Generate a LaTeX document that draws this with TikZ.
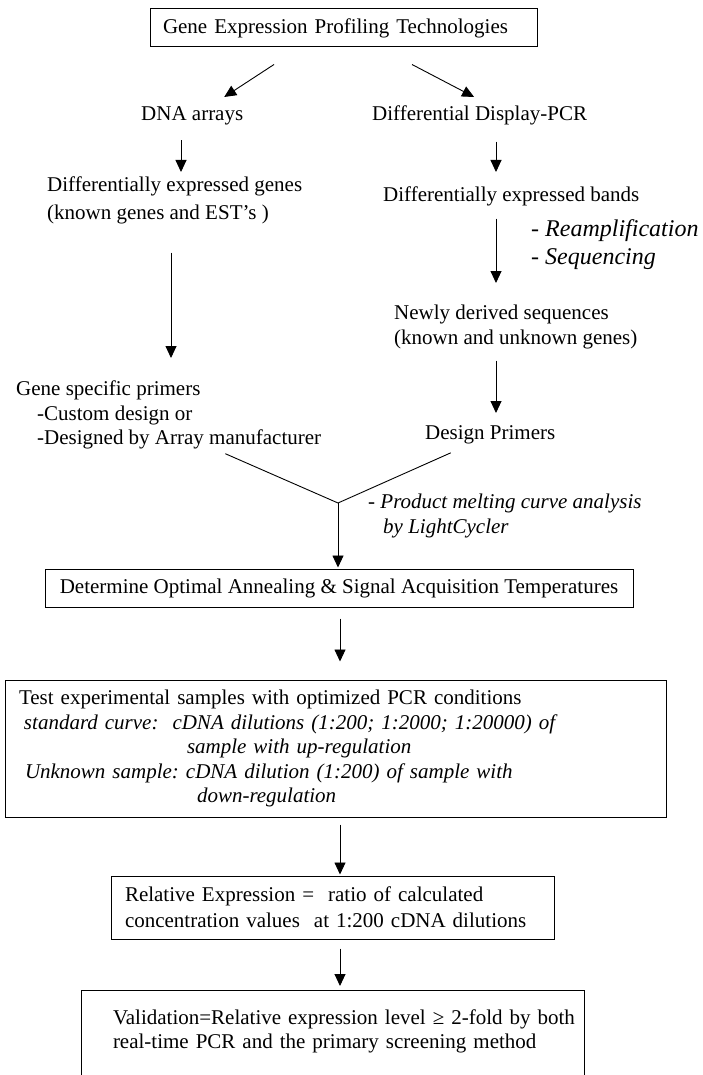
\documentclass[tikz,border=0pt]{standalone}
\usepackage{fontspec}
\setmainfont{Liberation Serif}
\usetikzlibrary{arrows.meta}
\frenchspacing

\begin{document}
\begin{tikzpicture}[x=1pt,y=-1pt,
		every node/.style={font=\fontsize{21}{24.5}\selectfont},
		txt/.style={inner sep=0pt,anchor=north west,align=left},
		ital/.style={font=\fontsize{21}{25}\selectfont\itshape},
		box/.style={draw,line width=1pt,inner ysep=0pt},
		ln/.style={line width=0.9pt},
		arr/.style={ln,-{Triangle[length=12pt,width=11pt]}}]
				\useasboundingbox (0,0) rectangle (703,1075);
				\clip (0,0) rectangle (703,1075);
				\coordinate (colA) at (181,0);
				\coordinate (colB) at (171,0);
				\coordinate (colR) at (496,0);
				\coordinate (colM) at (340,0);
				\coordinate (join) at (338,503);
				\node[box,text width=361pt,inner xsep=13pt,minimum height=38pt] (gept) at (343.5,28) {Gene Expression Profiling Technologies};
				\node[txt] (dna) at (141,106) {DNA arrays};
				\node[txt] (ddp) at (372,106) {Differential Display-PCR};
				\node[txt] (deg) at (47,177) {Differentially expressed genes\\[3.5pt](known genes and EST's )};
				\node[txt] (deb) at (383,187) {Differentially expressed bands};
				\node[txt,font=\fontsize{24}{28}\selectfont\itshape] (rsq) at (531,219) {- Reamplification\\- Sequencing};
				\node[txt] (nds) at (394,305) {Newly derived sequences\\(known and unknown genes)};
				\node[txt] (gsp) at (16,381) {Gene specific primers\\\hspace*{21pt}-Custom design or\\\hspace*{21pt}-Designed by Array manufacturer};
				\node[txt] (dp) at (425,425) {Design Primers};
				\node[txt,ital] (pmc) at (368,494) {- Product melting curve analysis\\\hspace*{15pt}by LightCycler};
				\node[box,minimum width=588pt,minimum height=38pt] (det) at (339,588) {Determine Optimal Annealing \& Signal Acquisition Temperatures};
				\node[box,text width=633pt,inner xsep=14pt,minimum height=137pt,align=left] (test) at (335.5,748.5) {Test experimental samples with optimized PCR conditions\\
					\hspace*{5pt}\textit{standard curve:\ \ cDNA dilutions (1:200; 1:2000; 1:20000) of}\\
					\hspace*{168pt}\textit{sample with up-regulation}\\
					\hspace*{6pt}\textit{Unknown sample: cDNA dilution (1:200) of sample with}\\
					\hspace*{178pt}\textit{down-regulation}};
				\node[box,text width=415pt,inner xsep=14pt,minimum height=63pt,align=left] (rel) at (332.5,907.5) {Relative Expression =\ \ ratio of calculated\\[1.5pt]concentration values\ \ at 1:200 cDNA dilutions};
				\node[box,anchor=north,text width=503pt,inner xsep=0pt,inner ysep=19pt,text depth=120pt,align=left] (val) at (332.5,990) {\hspace*{32pt}Validation=Relative expression level ≥ 2-fold by both\\\hspace*{32pt}real-time PCR and the primary screening method};
				\draw[arr] ([shift={(-69.5,17)}]gept.south) -- ([shift={(32,-9)}]dna.north);
				\draw[arr] ([shift={(68.5,17)}]gept.south) -- ([shift={(-5.5,-9)}]ddp.north);
				\draw[arr,shorten <=15.5pt,shorten >=5pt] (dna.south -| colA) -- (deg.north -| colA);
				\draw[arr,shorten <=16pt,shorten >=15pt] (ddp.south -| colR) -- (deb.north -| colR);
				\draw[arr,shorten <=12pt,shorten >=22pt] (deb.south -| colR) -- (nds.north -| colR);
				\draw[arr,shorten <=28pt,shorten >=23pt] (deg.south -| colB) -- (gsp.north -| colB);
				\draw[arr,shorten <=11.6pt,shorten >=12pt] (nds.south -| colR) -- (dp.north -| colR);
				\draw[ln] ([shift={(-96,4)}]gsp.south east) -- (join) -- ([shift={(-39.5,9)}]dp.south);
				\draw[arr,shorten >=1pt] (join) -- (det.north -| join);
				\draw[arr,shorten <=11pt,shorten >=18pt] (det.south -| colM) -- (test.north -| colM);
				\draw[arr,shorten <=7pt,shorten >=1pt] (test.south -| colM) -- (rel.north -| colM);
				\draw[arr,shorten <=9pt,shorten >=4pt] (rel.south -| colM) -- (val.north -| colM);
			\end{tikzpicture}
\end{document}
